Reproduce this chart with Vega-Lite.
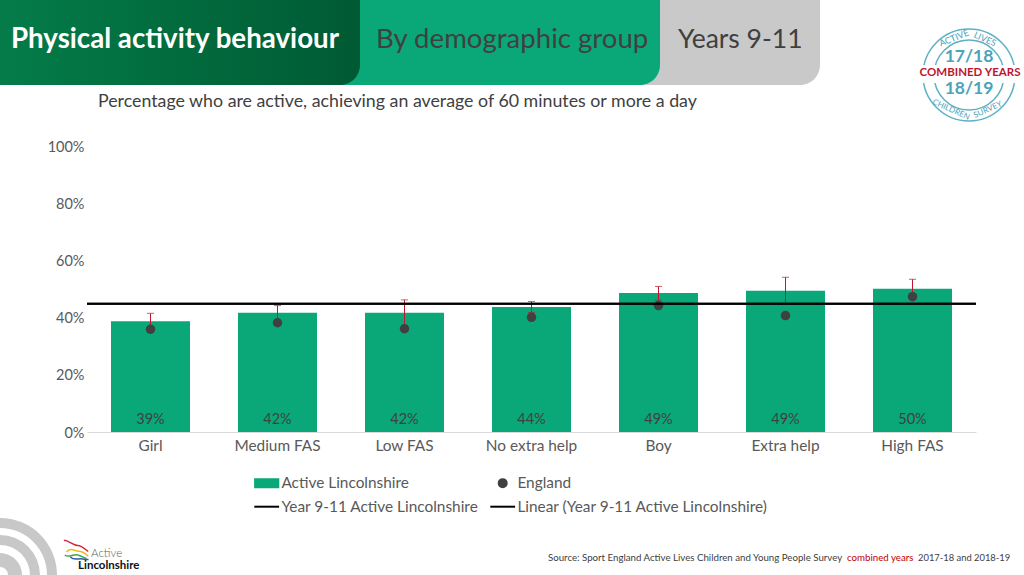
{
"$schema":"https://vega.github.io/schema/vega-lite/v6.json",
"width":889,"height":286,
"autosize":{"type":"none"},
"padding":{"left":87,"top":146,"right":48,"bottom":143},
"background":"white",
"config":{"font":"Lato","view":{"stroke":null},
"legend":{"orient":"none","legendX":172,"legendY":329,"direction":"horizontal","columns":2,"columnPadding":7,"rowPadding":7,"labelFontSize":15.4,"labelColor":"#595959","labelLimit":400,"labelOffset":7,"symbolSize":64,"symbolStrokeWidth":2,"symbolOpacity":1}},
"datasets":{"bars":[
{"group":"Girl","series":"Active Lincolnshire","value":0.387,"low":0.359,"high":0.415},
{"group":"Medium FAS","series":"Active Lincolnshire","value":0.417,"low":0.392,"high":0.442},
{"group":"Low FAS","series":"Active Lincolnshire","value":0.417,"low":0.372,"high":0.462},
{"group":"No extra help","series":"Active Lincolnshire","value":0.437,"low":0.418,"high":0.456},
{"group":"Boy","series":"Active Lincolnshire","value":0.486,"low":0.461,"high":0.509},
{"group":"Extra help","series":"Active Lincolnshire","value":0.494,"low":0.447,"high":0.541},
{"group":"High FAS","series":"Active Lincolnshire","value":0.501,"low":0.468,"high":0.534}],
"england":[
{"group":"Girl","series":"England","value":0.359},
{"group":"Medium FAS","series":"England","value":0.382},
{"group":"Low FAS","series":"England","value":0.361},
{"group":"No extra help","series":"England","value":0.401},
{"group":"Boy","series":"England","value":0.442},
{"group":"Extra help","series":"England","value":0.407},
{"group":"High FAS","series":"England","value":0.473}],
"lines":[
{"series":"Year 9-11 Active Lincolnshire","value":0.448},
{"series":"Linear (Year 9-11 Active Lincolnshire)","value":0.448}],
"one":[{}]},
"layer":[
{"data":{"name":"one"},"mark":{"type":"rect","x":-87,"x2":733,"y":-146,"y2":-61,"fill":"#c9c9c9","cornerRadiusBottomRight":20}},
{"data":{"name":"one"},"mark":{"type":"rect","x":-87,"x2":573,"y":-146,"y2":-61,"fill":"#0aa878","cornerRadiusBottomRight":20}},
{"data":{"name":"one"},"mark":{"type":"rect","x":-87,"x2":273,"y":-146,"y2":-61,"cornerRadiusBottomRight":20,"fill":{"x1":0,"y1":0,"x2":1,"y2":0,"gradient":"linear","stops":[{"offset":0,"color":"#047c49"},{"offset":1,"color":"#005a33"}]}}},
{"data":{"name":"one"},"mark":{"type":"text","text":"Physical activity behaviour","x":-76,"y":-106,"align":"left","baseline":"middle","fontSize":27.7,"fontWeight":"bold","fill":"white"}},
{"data":{"name":"one"},"mark":{"type":"text","text":"By demographic group","x":289,"y":-106,"align":"left","baseline":"middle","fontSize":27.6,"fill":"#404040"}},
{"data":{"name":"one"},"mark":{"type":"text","text":"Years 9-11","x":591,"y":-106,"align":"left","baseline":"middle","fontSize":26.5,"fill":"#404040"}},
{"data":{"name":"one"},"mark":{"type":"text","text":"Percentage who are active, achieving an average of 60 minutes or more a day","x":11,"y":-44,"align":"left","baseline":"middle","fontSize":17.8,"fill":"#404040"}},
{"data":{"name":"bars"},
"mark":{"type":"bar"},
"encoding":{
"x":{"field":"group","type":"nominal","title":null,"sort":["Girl","Medium FAS","Low FAS","No extra help","Boy","Extra help","High FAS"],"scale":{"paddingInner":0.378,"paddingOuter":0.189},"axis":{"labelAngle":0,"ticks":false,"domainColor":"#d9d9d9","domainWidth":1,"labelColor":"#595959","labelFontSize":15.4,"labelPadding":6}},
"y":{"field":"value","type":"quantitative","title":null,"scale":{"domain":[0,1]},"axis":{"values":[0,0.2,0.4,0.6,0.8,1],"format":".0%","domain":false,"ticks":false,"grid":false,"labelColor":"#595959","labelFontSize":14.5,"labelPadding":3,"labelOffset":1}},
"fill":{"field":"series","type":"nominal","title":null,"scale":{"domain":["Active Lincolnshire","England","Year 9-11 Active Lincolnshire","Linear (Year 9-11 Active Lincolnshire)"],"range":["#0aa878","#404040","#000000","#000000"]}}}},
{"data":{"name":"bars"},
"mark":{"type":"text","baseline":"bottom","dy":-5,"fontSize":14.5,"fill":"#404040"},
"encoding":{"x":{"field":"group","type":"nominal","sort":["Girl","Medium FAS","Low FAS","No extra help","Boy","Extra help","High FAS"]},"y":{"datum":0},"text":{"field":"value","type":"quantitative","format":".0%"}}},
{"data":{"name":"bars"},
"mark":{"type":"errorbar","ticks":{"size":7,"color":"#c0152f"},"rule":{"color":"#c0152f","strokeWidth":1}},
"encoding":{"x":{"field":"group","type":"nominal","sort":["Girl","Medium FAS","Low FAS","No extra help","Boy","Extra help","High FAS"]},"y":{"field":"low","type":"quantitative"},"y2":{"field":"high"}}},
{"data":{"name":"england"},
"mark":{"type":"point","filled":true,"size":90,"opacity":1,"strokeWidth":0},
"encoding":{
"x":{"field":"group","type":"nominal","sort":["Girl","Medium FAS","Low FAS","No extra help","Boy","Extra help","High FAS"]},
"y":{"field":"value","type":"quantitative"},
"fill":{"field":"series","type":"nominal","title":null,"scale":{"domain":["Active Lincolnshire","England","Year 9-11 Active Lincolnshire","Linear (Year 9-11 Active Lincolnshire)"],"range":["#0aa878","#404040","#000000","#000000"]}},
"stroke":{"field":"series","type":"nominal","title":null,"scale":{"domain":["Active Lincolnshire","England","Year 9-11 Active Lincolnshire","Linear (Year 9-11 Active Lincolnshire)"],"range":["#0aa878","#404040","#000000","#000000"]}},
"shape":{"field":"series","type":"nominal","title":null,"scale":{"domain":["Active Lincolnshire","England","Year 9-11 Active Lincolnshire","Linear (Year 9-11 Active Lincolnshire)"],"range":["M-2.9,-1H2.9V1H-2.9Z","circle","M-3.1,0H3.1","M-3.1,0H3.1"]}}}},
{"data":{"name":"lines"},
"mark":{"type":"rule","strokeWidth":2},
"encoding":{"y":{"field":"value","type":"quantitative"},"stroke":{"field":"series","type":"nominal","title":null,"scale":{"domain":["Active Lincolnshire","England","Year 9-11 Active Lincolnshire","Linear (Year 9-11 Active Lincolnshire)"],"range":["#0aa878","#404040","#000000","#000000"]}}}},
{"data":{"name":"one"},"mark":{"type":"arc","x":-87,"y":429,"radius":57,"radius2":47,"theta":0,"theta2":1.5708,"fill":"#c8c8c8"}},
{"data":{"name":"one"},"mark":{"type":"arc","x":-87,"y":429,"radius":40,"radius2":30,"theta":0,"theta2":1.5708,"fill":"#c8c8c8"}},
{"data":{"name":"one"},"mark":{"type":"arc","x":-87,"y":429,"radius":22,"radius2":8,"theta":0,"theta2":1.5708,"fill":"#c8c8c8"}},
{"data":{"name":"one"},"mark":{"type":"point","x":-11,"y":402,"size":300,"shape":"M-1.4,-0.9C-0.8,-0.9,-0.4,-0.3,0.2,-0.3C0.6,-0.3,0.9,0,1.4,0.4","stroke":"#d6263a","strokeWidth":1.5,"filled":false,"opacity":1}},
{"data":{"name":"one"},"mark":{"type":"point","x":-10,"y":406,"size":300,"shape":"M-1.2,0C-0.8,-0.6,-0.3,-0.1,0.2,-0.1C0.6,-0.1,0.9,0.1,1.3,0.5","stroke":"#f2b81f","strokeWidth":1.5,"filled":false,"opacity":1}},
{"data":{"name":"one"},"mark":{"type":"point","x":-11,"y":409,"size":300,"shape":"M-1.3,0C-0.8,0.4,-0.3,-0.2,0.2,0C0.6,0.1,0.9,0.3,1.2,0.4","stroke":"#3fa648","strokeWidth":1.5,"filled":false,"opacity":1}},
{"data":{"name":"one"},"mark":{"type":"point","x":-8,"y":411,"size":300,"shape":"M-1.0,0C-0.6,0.4,-0.2,0.2,0.2,0.2C0.5,0.2,0.8,0.3,1.1,0.3","stroke":"#2d5aa6","strokeWidth":1.5,"filled":false,"opacity":1}},
{"data":{"name":"one"},"mark":{"type":"text","text":"Active","x":4,"y":408,"align":"left","baseline":"middle","fontSize":11.5,"fontWeight":300,"fill":"#595959"}},
{"data":{"name":"one"},"mark":{"type":"text","text":"Lincolnshire","x":-9,"y":420,"align":"left","baseline":"middle","fontSize":11.5,"fontWeight":"bold","fill":"#111111"}},
{"data":{"name":"one"},"mark":{"type":"text","text":"Source: Sport England Active Lives Children and Young People Survey","x":461,"y":412,"align":"left","baseline":"middle","fontSize":9.7,"fill":"#404040"}},
{"data":{"name":"one"},"mark":{"type":"text","text":"combined years","x":760,"y":412,"align":"left","baseline":"middle","fontSize":9.7,"fill":"#c00000"}},
{"data":{"name":"one"},"mark":{"type":"text","text":"2017-18 and 2018-19","x":831,"y":412,"align":"left","baseline":"middle","fontSize":9.4,"fill":"#404040"}},
{"data":{"name":"one"},"mark":{"type":"point","x":882,"y":-71,"size":8464,"shape":"circle","filled":false,"stroke":"#5fb0c4","strokeWidth":1.5,"opacity":1}},
{"data":{"name":"one"},"mark":{"type":"point","x":882,"y":-71,"size":4900,"shape":"circle","filled":false,"stroke":"#5fb0c4","strokeWidth":1.5,"opacity":1}},
{"data":{"name":"one"},"mark":{"type":"rect","x":832,"x2":934,"y":-81,"y2":-63,"fill":"white"}},
{"data":{"name":"one"},"mark":{"type":"text","text":"17/18","x":882,"y":-89,"align":"center","baseline":"middle","fontSize":17.5,"fontWeight":"bold","fill":"#4aa3ba"}},
{"data":{"name":"one"},"mark":{"type":"text","text":"18/19","x":882,"y":-57,"align":"center","baseline":"middle","fontSize":17.5,"fontWeight":"bold","fill":"#4aa3ba"}},
{"data":{"name":"one"},"mark":{"type":"text","text":"COMBINED YEARS","x":883,"y":-73,"align":"center","baseline":"middle","fontSize":11.5,"fontWeight":"bold","fill":"#c0152f"}},
{"data":{"name":"one"},"mark":{"type":"text","text":"ACTIVE","x":867,"y":-108,"angle":-22,"align":"center","baseline":"middle","fontSize":9,"fill":"#4aa3ba"}},
{"data":{"name":"one"},"mark":{"type":"text","text":"LIVES","x":898,"y":-107,"angle":24,"align":"center","baseline":"middle","fontSize":9,"fill":"#4aa3ba"}},
{"data":{"name":"one"},"mark":{"type":"text","text":"CHILDREN","x":864,"y":-36,"angle":24,"align":"center","baseline":"middle","fontSize":8,"fill":"#4aa3ba"}},
{"data":{"name":"one"},"mark":{"type":"text","text":"SURVEY","x":901,"y":-36,"angle":-24,"align":"center","baseline":"middle","fontSize":8,"fill":"#4aa3ba"}}
]
}
